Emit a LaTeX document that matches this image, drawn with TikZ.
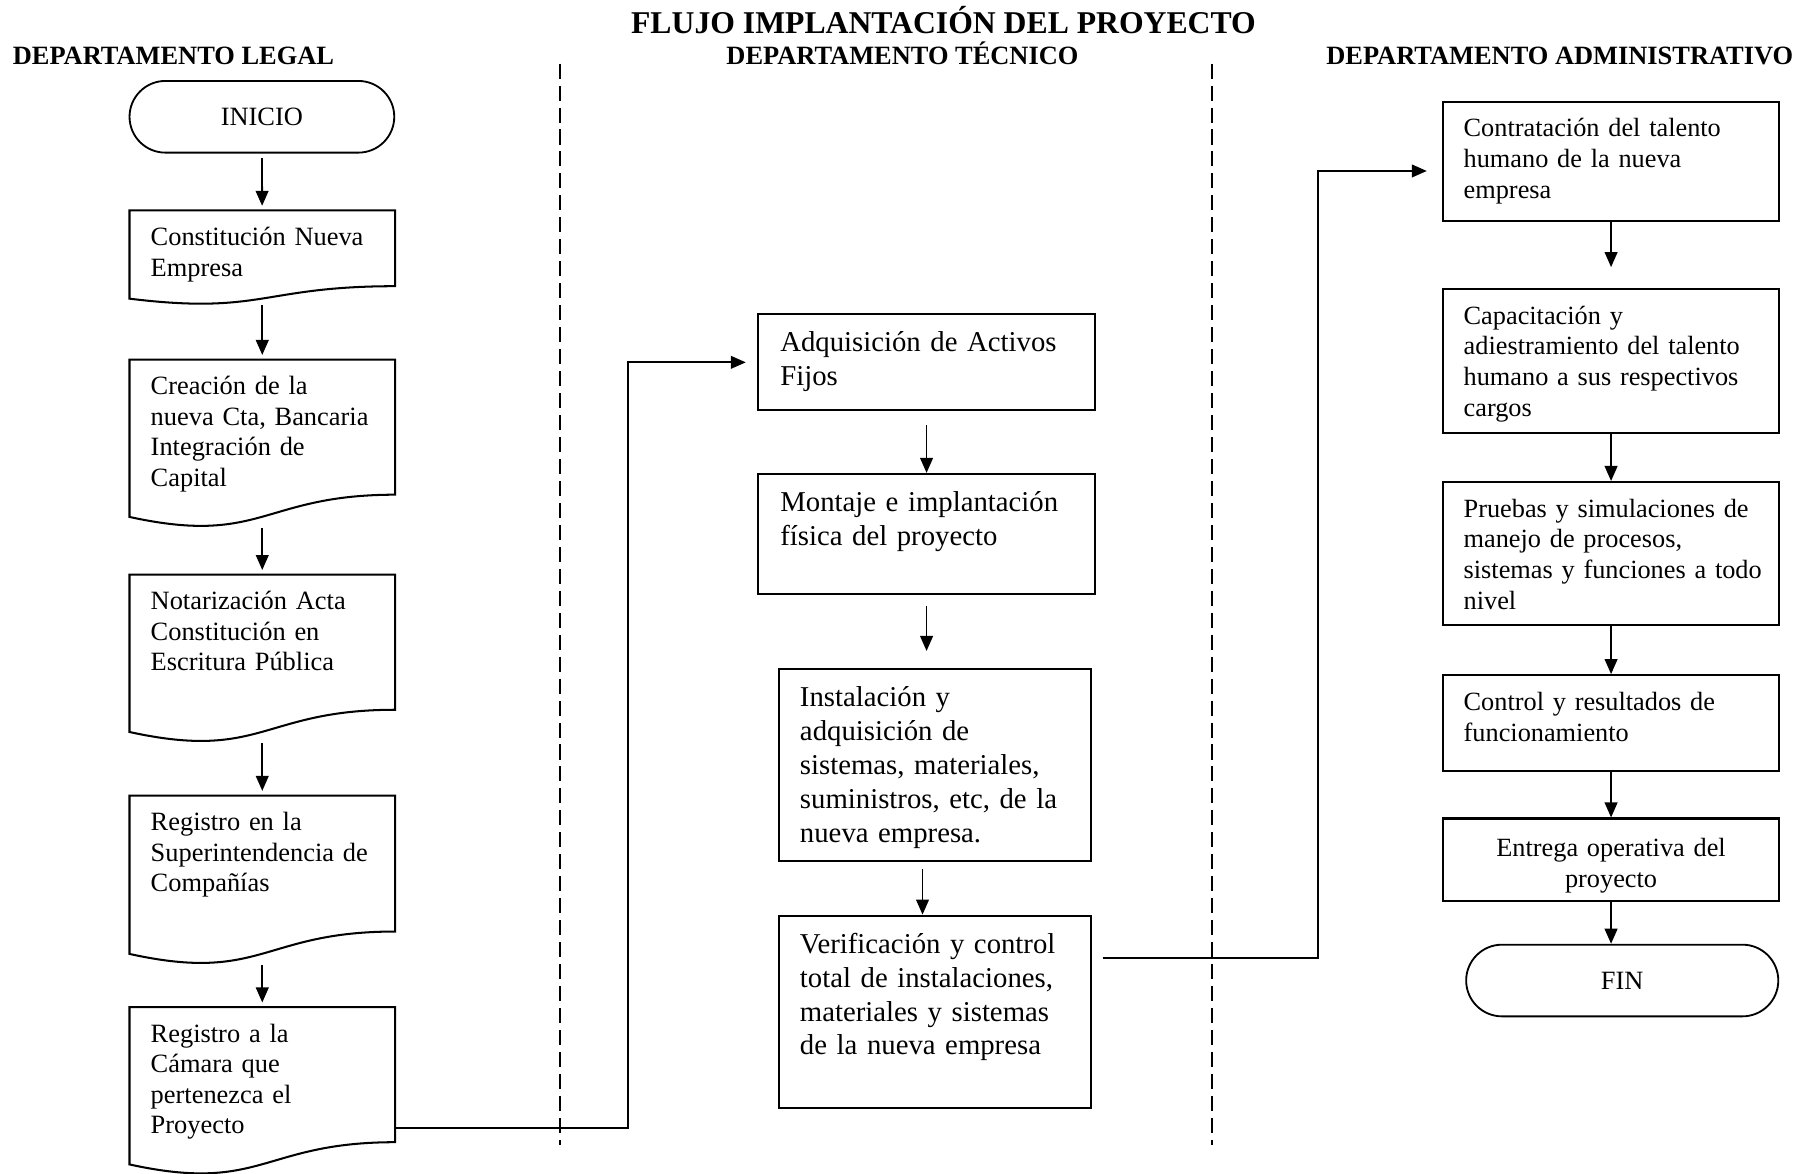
\documentclass[tikz,border=0pt]{standalone}
\usepackage{fontspec}
\setmainfont{Liberation Serif}
\usepackage{tikz}
\usetikzlibrary{arrows.meta, positioning, calc, shapes.misc}
\tikzset{
  terminal/.style={rounded rectangle, draw, line width=0.9pt, minimum height=1.24cm, inner sep=0pt, font=\fontsize{13}{15}\selectfont},
  docbox/.style={rectangle, anchor=north west, inner xsep=0.36cm, inner ysep=0pt, text width=3.86cm, text height=0.6cm, align=left, font=\fontsize{13}{15}\selectfont},
  tecbox/.style={rectangle, draw, line width=1pt, anchor=north west, inner xsep=0.38cm, inner ysep=0pt, text width=5.06cm, text height=0.65cm, align=left, font=\fontsize{14.15}{16.7}\selectfont},
  admbox/.style={rectangle, draw, line width=1pt, anchor=north west, inner xsep=0.36cm, inner ysep=0pt, text width=5.1cm, text height=0.61cm, align=left, font=\fontsize{12.95}{15.1}\selectfont},
  arrow/.style={-{Triangle[length=0.26cm, width=0.22cm]}, line width=0.9pt},
  line/.style={line width=1pt},
  divider/.style={line width=0.9pt, dash pattern=on 0.26cm off 0.12cm},
  dept/.style={anchor=base, font=\fontsize{13}{15}\selectfont\bfseries}
}
\begin{document}
\begin{tikzpicture}[x=0.02cm, y=-0.02cm]
  \path[fill=white] (0,0) rectangle (1568,1015);
  \useasboundingbox (0,0) rectangle (1568,1015);

  % Titles
  \node[anchor=base, font=\fontsize{15.6}{18}\selectfont\bfseries] (titulo) at (816,29) {FLUJO IMPLANTACIÓN DEL PROYECTO};
  \node[dept] (legal) at (150,56) {DEPARTAMENTO LEGAL};
  \node[dept] (tecnico) at (780.5,56) {DEPARTAMENTO TÉCNICO};
  \node[dept] (admin) at (1349,56) {DEPARTAMENTO ADMINISTRATIVO};

  % Lane dividers
  \draw[divider] (484,55) -- (484,990);
  \draw[divider] (1048,55) -- (1048,990);

  % Departamento legal
  \node[terminal, minimum width=4.58cm] (inicio) at (226.5,101) {INICIO};
  \node[docbox, text depth=1.02cm] (constit) at (112,182) {Constitución Nueva\\Empresa};
  \node[docbox, text depth=2.30cm] (cuenta) at (112,311) {Creación de la\\nueva Cta, Bancaria\\Integración de\\Capital};
  \node[docbox, text depth=2.30cm] (notaria) at (112,497) {Notarización Acta\\Constitución en\\Escritura Pública};
  \node[docbox, text depth=2.32cm] (supercias) at (112,688) {Registro en la\\\mbox{Superintendencia de}\\Compañías};
  \node[docbox, text depth=2.30cm] (camara) at (112,871) {Registro a la\\Cámara que\\pertenezca el\\Proyecto};
  % document outlines (wavy bottom)
  \foreach \n in {constit,cuenta,notaria,supercias,camara}
    \draw[line] (\n.north west) -- (\n.north east)
      -- ($(\n.north east)!0.802!(\n.south east)$)
      .. controls ($(\n.north)!0.802!(\n.south)$) and ($(\n.north)!1.107!(\n.south)$)
      .. ($(\n.north west)!0.934!(\n.south west)$) -- cycle;

  % Departamento tecnico
  \node[tecbox, text depth=1.01cm] (adquis) at (655,271) {Adquisición de Activos\\Fijos};
  \node[tecbox, text depth=1.43cm] (montaje) at (655,409) {Montaje e implantación\\física del proyecto};
  \node[tecbox, inner xsep=0.36cm, text width=4.68cm, text depth=2.67cm] (instal) at (673,578) {Instalación y\\adquisición de\\sistemas, materiales,\\\mbox{suministros, etc, de la}\\nueva empresa.};
  \node[tecbox, inner xsep=0.36cm, text width=4.68cm, text depth=2.67cm] (verif) at (673,791) {\mbox{Verificación y control}\\total de instalaciones,\\materiales y sistemas\\de la nueva empresa};

  % Departamento administrativo
  \node[admbox, text depth=1.45cm] (contrat) at (1247,87) {Contratación del talento\\humano de la nueva\\empresa};
  \node[admbox, text depth=1.89cm] (capacit) at (1247,249) {Capacitación y\\\mbox{adiestramiento del talento}\\humano a sus respectivos\\cargos};
  \node[admbox, text depth=1.87cm] (pruebas) at (1247,416) {\mbox{Pruebas y simulaciones de}\\manejo de procesos,\\\mbox{sistemas y funciones a todo}\\nivel};
  \node[admbox, text depth=1.05cm] (control) at (1247,583) {Control y resultados de\\funcionamiento};
  \node[admbox, align=center, text height=0.66cm, text depth=0.76cm] (entrega) at (1247,707) {Entrega operativa del\\proyecto};
  \node[terminal, minimum width=5.4cm] (fin) at (1403,848) {FIN};

  % Flow inside each lane
  \draw[arrow, shorten <=0.08cm, shorten >=0.08cm] (inicio) -- (constit);
  \draw[arrow, shorten >=0.08cm] (constit) -- (cuenta);
  \draw[arrow, shorten >=0.08cm] (cuenta) -- (notaria);
  \draw[arrow, shorten >=0.08cm] (notaria) -- (supercias);
  \draw[arrow, shorten >=0.08cm] (supercias) -- (camara);

  \draw[arrow, shorten <=0.24cm] (adquis) -- (montaje);
  \draw[arrow, shorten <=0.18cm, shorten >=0.3cm] (montaje.south) -- (montaje.south |- instal.north);
  \draw[arrow, shorten <=0.12cm] ([xshift=-0.22cm]instal.south) -- ([xshift=-0.22cm]verif.north);

  \draw[arrow, shorten >=0.36cm] (contrat) -- (capacit);
  \draw[arrow] (capacit) -- (pruebas);
  \draw[arrow] (pruebas) -- (control);
  \draw[arrow] (control) -- (entrega);
  \draw[arrow] (entrega.south) -- (entrega.south |- fin.north);

  % Between lanes
  \draw[arrow] ([yshift=-0.64cm]camara.east) -| ([xshift=-2.24cm]adquis.west) -- ([xshift=-0.2cm]adquis.west);
  \draw[arrow] ([xshift=0.18cm, yshift=0.93cm]verif.east) -| ([xshift=-2.14cm, yshift=-0.17cm]contrat.west) -- ([xshift=-0.26cm, yshift=-0.17cm]contrat.west);
\end{tikzpicture}
\end{document}
